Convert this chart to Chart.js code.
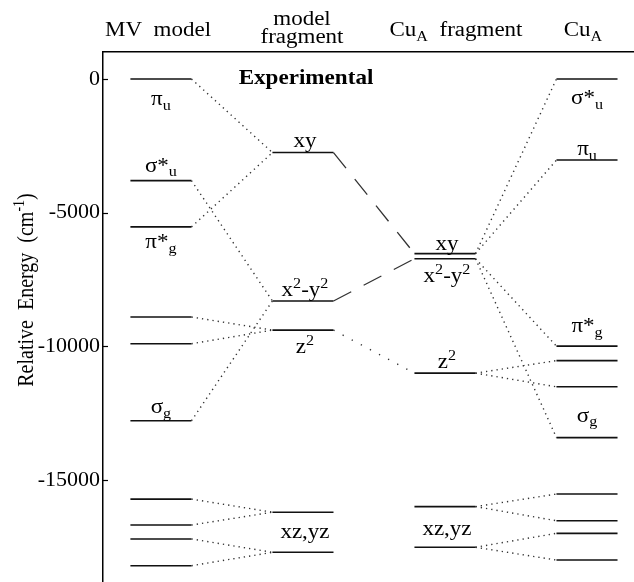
<!DOCTYPE html>
<html>
<head>
<meta charset="utf-8">
<script src="https://cdn.jsdelivr.net/npm/chart.js@4.4.1/dist/chart.umd.min.js"></script>
<style>
  html, body { margin: 0; padding: 0; background: #fff; }
  #wrap { width: 634px; height: 582px; }
</style>
</head>
<body>
<div id="wrap"><canvas id="diagram" width="634" height="582"></canvas></div>
<script>
// Column headers ("_" subscript, "^" superscript, "\n" new line)
const columnNames = ['MV  model', 'model\nfragment', 'Cu_A  fragment', 'Cu_A'];

// Orbital energies in cm^-1, relative to the top level
const mvModelLevels       = [0, -3800, -5530, -8900, -9900, -12780, -15710, -16680, -17200, -18200];
const modelFragmentLevels = [-2750, -8300, -9390, -16200, -17700];
const cuaFragmentLevels   = [-6530, -6720, -11000, -15990, -17510];
const cuaLevels           = [0, -3030, -9990, -10530, -11510, -13410, -15520, -16520, -16990, -17990];

const yTicks = [0, -5000, -10000, -15000];
const yTitle = 'Relative  Energy  (cm^{-1})';
const panelTitle = 'Experimental';

// Level labels: [column, level index, text]
const levelLabels = [
  [0, 0, 'π_u'], [0, 1, 'σ*_u'], [0, 2, 'π*_g'], [0, 5, 'σ_g'],
  [1, 0, 'xy'], [1, 1, 'x^2-y^2'], [1, 2, 'z^2'], [1, 3, 'xz,yz'],
  [2, 0, 'xy'], [2, 1, 'x^2-y^2'], [2, 2, 'z^2'], [2, 3, 'xz,yz'],
  [3, 0, 'σ*_u'], [3, 1, 'π_u'], [3, 2, 'π*_g'], [3, 5, 'σ_g']
];

// Correlation lines: [from column, from level, to column, to level, style]
const correlations = [
  [0, 0, 1, 0, 'dot'], [0, 2, 1, 0, 'dot'],
  [0, 1, 1, 1, 'dot'], [0, 5, 1, 1, 'dot'],
  [0, 3, 1, 2, 'dot'], [0, 4, 1, 2, 'dot'],
  [0, 6, 1, 3, 'dot'], [0, 7, 1, 3, 'dot'],
  [0, 8, 1, 4, 'dot'], [0, 9, 1, 4, 'dot'],
  [1, 0, 2, 0, 'dash'], [1, 1, 2, 1, 'dash'], [1, 2, 2, 2, 'sparse'],
  [2, 0, 3, 0, 'dot'], [2, 0, 3, 1, 'dot'],
  [2, 1, 3, 2, 'dot'], [2, 1, 3, 5, 'dot'],
  [2, 2, 3, 3, 'dot'], [2, 2, 3, 4, 'dot'],
  [2, 3, 3, 6, 'dot'], [2, 3, 3, 7, 'dot'],
  [2, 4, 3, 8, 'dot'], [2, 4, 3, 9, 'dot']
];

// ---- layout ----
const columns = [mvModelLevels, modelFragmentLevels, cuaFragmentLevels, cuaLevels];
const HALF = 0.215;                     // half length of a level bar, in column units
const FONT = "'Liberation Serif', 'Times New Roman', serif";
const STRETCH = 1.15;                   // horizontal widening of the serif text
const dashStyles = { dot: [1.3, 4], dash: [20, 14], sparse: [1.3, 9] };
// baseline offset (px) of each level label from its level line
const labelOffset = {
  '0:0': 26, '0:1': -9, '0:2': 21, '0:5': -8,
  '1:0': -6, '1:1': -5, '1:2': 23, '1:3': 26,
  '2:0': -4, '2:1': 23, '2:2': -5, '2:3': 28,
  '3:0': 25, '3:1': -5, '3:2': -14, '3:5': -16
};
const labelShiftX = [0, 2, 2, 0];
const headerPos = [{ x: 158, y: [36] }, { x: 302, y: [25, 43] }, { x: 456, y: [36] }, { x: 583, y: [36] }];

// split "a^b_c" / "cm^{-1}" into normal, superscript and subscript runs
function parseRich(s) {
  const out = [];
  let i = 0, buf = '';
  while (i < s.length) {
    const ch = s[i];
    if (ch === '^' || ch === '_') {
      if (buf) { out.push({ t: buf, m: 'n' }); buf = ''; }
      let t;
      if (s[i + 1] === '{') {
        const end = s.indexOf('}', i + 2);
        t = s.slice(i + 2, end);
        i = end + 1;
      } else {
        t = s[i + 1];
        i += 2;
      }
      out.push({ t, m: ch === '^' ? 'sup' : 'sub' });
    } else { buf += ch; i++; }
  }
  if (buf) out.push({ t: buf, m: 'n' });
  return out;
}

function drawRich(ctx, str, x, y, size, opts = {}) {
  const weight = opts.bold ? 'bold ' : '';
  const runs = parseRich(str);
  const fontFor = m => weight + (m === 'n' ? size : Math.round(size * 0.7)) + 'px ' + FONT;
  let total = 0;
  runs.forEach(r => { ctx.font = fontFor(r.m); r.w = ctx.measureText(r.t).width; total += r.w; });
  ctx.save();
  ctx.translate(x, y);
  ctx.scale(opts.stretch || STRETCH, 1);
  ctx.fillStyle = '#000';
  ctx.textBaseline = 'alphabetic';
  ctx.textAlign = 'left';
  let cx = -total / 2;
  runs.forEach(r => {
    ctx.font = fontFor(r.m);
    const dy = r.m === 'sup' ? -size * 0.4 : r.m === 'sub' ? size * 0.24 : 0;
    ctx.fillText(r.t, cx, dy);
    cx += r.w;
  });
  ctx.restore();
}

// ---- datasets ----
const datasets = [];
columns.forEach((levels, c) => levels.forEach(e => datasets.push({
  data: [{ x: c - HALF, y: e }, { x: c + HALF, y: e }],
  borderColor: '#111', borderWidth: 1.6
})));
correlations.forEach(([c1, i1, c2, i2, kind]) => datasets.push({
  data: [{ x: c1 + HALF, y: columns[c1][i1] }, { x: c2 - HALF, y: columns[c2][i2] }],
  borderColor: '#333', borderWidth: kind === 'dash' ? 1.3 : 1.4,
  borderDash: dashStyles[kind]
}));

// inward tick marks, texts and labels
const annotate = {
  id: 'annotate',
  afterDraw(chart) {
    const { ctx, scales: { x, y }, chartArea } = chart;
    ctx.save();
    ctx.strokeStyle = '#000';
    ctx.lineWidth = 1.2;
    yTicks.forEach(v => {
      const py = Math.round(y.getPixelForValue(v)) + 0.5;
      ctx.beginPath();
      ctx.moveTo(chartArea.left, py);
      ctx.lineTo(chartArea.left + 5, py);
      ctx.stroke();
    });
    ctx.restore();

    columnNames.forEach((name, c) => {
      name.split('\n').forEach((line, k) => drawRich(ctx, line, headerPos[c].x, headerPos[c].y[k], 20));
    });
    drawRich(ctx, panelTitle, 306, 84, 22, { bold: true, stretch: 1.05 });

    levelLabels.forEach(([c, i, text]) => {
      const px = x.getPixelForValue(c) + labelShiftX[c];
      const py = y.getPixelForValue(columns[c][i]) + labelOffset[c + ':' + i];
      drawRich(ctx, text, px, py, 20);
    });

    // rotated axis title
    ctx.save();
    ctx.translate(33, 290);
    ctx.scale(STRETCH, 1);
    ctx.rotate(-Math.PI / 2);
    drawRich(ctx, yTitle, 0, 0, 20, { stretch: 1 });
    ctx.restore();
  }
};

new Chart(document.getElementById('diagram'), {
  type: 'scatter',
  data: { datasets },
  options: {
    responsive: false,
    devicePixelRatio: 1,
    animation: false,
    layout: { padding: { top: 52, right: 0, bottom: 0, left: 0 } },
    datasets: { scatter: { showLine: true, pointRadius: 0, pointHoverRadius: 0, fill: false, tension: 0 } },
    plugins: { legend: { display: false }, tooltip: { enabled: false } },
    scales: {
      x: {
        type: 'linear', position: 'top', min: -0.408, max: 3.331,
        grid: { display: false, drawTicks: false },
        border: { display: true, color: '#000', width: 1.5 },
        ticks: { display: false },
        afterFit(s) { s.height = 0; s.paddingLeft = 0; s.paddingRight = 0; }
      },
      y: {
        type: 'linear', position: 'left', min: -18810, max: 1010,
        grid: { display: false, drawTicks: false },
        border: { display: true, color: '#000', width: 1.5 },
        afterBuildTicks(s) { s.ticks = yTicks.map(v => ({ value: v })); },
        ticks: { color: '#000', padding: 3, font: { family: FONT, size: 22 }, callback: v => String(v) },
        afterFit(s) { s.width = 103; s.paddingTop = 0; s.paddingBottom = 0; }
      }
    }
  },
  plugins: [annotate]
});
</script>
</body>
</html>
